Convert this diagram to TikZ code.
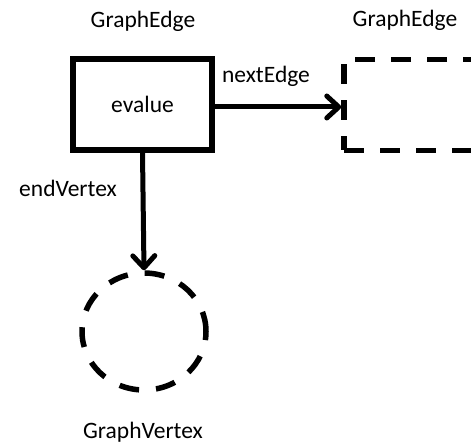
\documentclass[tikz,border=0pt]{standalone}
\usepackage{fontspec}
\setmainfont{Carlito}
\usetikzlibrary{arrows.meta,shapes.geometric}
\begin{document}
\begin{tikzpicture}[x=1pt,y=-1pt,
  lbl/.style={anchor=base,inner sep=0pt,font=\fontsize{23.5}{28}\selectfont},
  solidbox/.style={draw,line width=6pt,minimum width=139pt,minimum height=91pt,inner sep=0pt},
  dashbox/.style={draw,line width=5.5pt,dash pattern=on 20pt off 16pt,minimum width=150pt,minimum height=91pt,inner sep=0pt},
  dashcirc/.style={draw,ellipse,line width=5.5pt,dash pattern=on 20pt off 17pt,minimum width=124pt,minimum height=117pt,inner sep=0pt},
  conn/.style={line width=5pt,-{Straight Barb[length=12pt,width=22pt,line cap=round,line join=round]}}]
\useasboundingbox (0,0) rectangle (471,443);
\begin{scope}
\clip (0,0) rectangle (471,443);
\node[solidbox] (edge) at (142.5,104.5) {};
\node[lbl] (ev) at (142.5,113) {evalue};
\node[dashbox] (next) at (419,105) {};
\node[dashcirc] (vertex) at (144,331.5) {};
\end{scope}
\node[lbl] (t1) at (143,28) {GraphEdge};
\node[lbl] (t2) at (405,27) {GraphEdge};
\node[lbl] (t3) at (266,83) {nextEdge};
\node[lbl] (t4) at (68,197) {endVertex};
\node[lbl] (t5) at (143,438) {GraphVertex};
\draw[conn] (edge.east |- 0,107) -- (next.west |- 0,107);
\draw[conn] (edge.south) -- (vertex.north);
\end{tikzpicture}
\end{document}
